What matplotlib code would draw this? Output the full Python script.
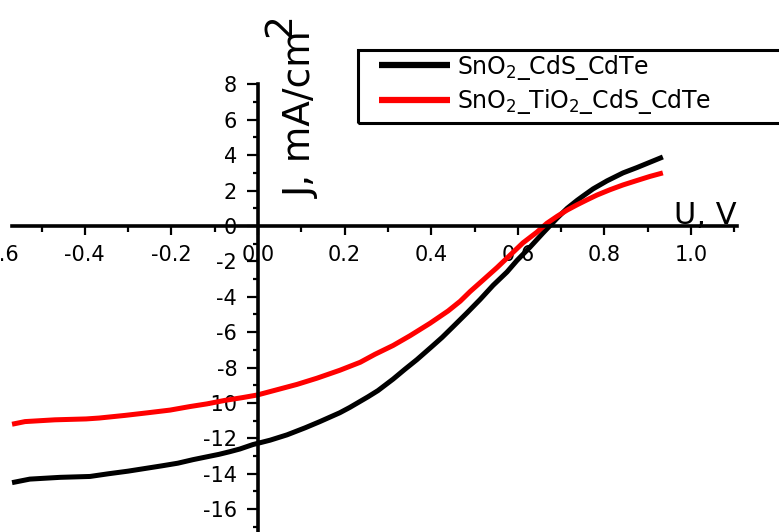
import matplotlib
matplotlib.use("Agg")
import matplotlib.pyplot as plt
from matplotlib.ticker import MultipleLocator, FormatStrFormatter
from matplotlib.patches import Rectangle

# ---- data ----
black_v = [-0.568, -0.527, -0.457, -0.388, -0.346, -0.300, -0.261, -0.222, -0.185,
           -0.150, -0.120, -0.090, -0.065, -0.042, -0.012, 0.028, 0.067, 0.109,
           0.143, 0.189, 0.212, 0.254, 0.277, 0.312, 0.339, 0.367, 0.402, 0.425,
           0.450, 0.483, 0.513, 0.543, 0.575, 0.598, 0.628, 0.658, 0.691, 0.714,
           0.737, 0.751, 0.774, 0.806, 0.843, 0.875, 0.905, 0.935]
black_j = [-14.5, -14.3, -14.2, -14.15, -14.0, -13.85, -13.7, -13.55, -13.4,
           -13.2, -13.05, -12.9, -12.75, -12.6, -12.35, -12.1, -11.8, -11.4,
           -11.05, -10.55, -10.25, -9.65, -9.3, -8.65, -8.1, -7.55, -6.8, -6.3,
           -5.7, -4.9, -4.15, -3.35, -2.6, -1.95, -1.2, -0.4, 0.45, 1.0,
           1.45, 1.7, 2.1, 2.55, 3.0, 3.3, 3.6, 3.9]

red_v = [-0.568, -0.538, -0.469, -0.397, -0.367, -0.307, -0.254, -0.203, -0.157,
         -0.118, -0.076, -0.037, -0.002, 0.044, 0.090, 0.136, 0.189, 0.236,
         0.270, 0.312, 0.351, 0.397, 0.439, 0.467, 0.490, 0.520, 0.552, 0.582,
         0.612, 0.644, 0.667, 0.691, 0.714, 0.737, 0.760, 0.783, 0.813, 0.843,
         0.875, 0.905, 0.935]
red_j = [-11.2, -11.05, -10.95, -10.9, -10.85, -10.7, -10.55, -10.4, -10.2,
         -10.05, -9.85, -9.7, -9.55, -9.25, -8.95, -8.6, -8.15, -7.7,
         -7.25, -6.75, -6.2, -5.5, -4.8, -4.25, -3.7, -3.05, -2.35, -1.65,
         -0.95, -0.35, 0.15, 0.55, 0.9, 1.2, 1.48, 1.75, 2.05, 2.32,
         2.57, 2.8, 3.0]

series_labels = ["SnO$_2$_CdS_CdTe", "SnO$_2$_TiO$_2$_CdS_CdTe"]
x_label = "U, V"
y_label = "J, mA/cm"
y_label_sup = "2"

plt.rcParams["axes.unicode_minus"] = False
plt.rcParams["font.family"] = ["DejaVu Sans"]

W, H = 779, 532
fig = plt.figure(figsize=(W / 100, H / 100), dpi=100)

# axes geometry (pixels)
x0_px, px_per_v = 258.0, 433.0
y0_px, px_per_j = 226.0, 17.7
xmin, xmax = -0.6, 1.106
ymin, ymax = -17.29, 8.0
left_px = x0_px + xmin * px_per_v
right_px = x0_px + xmax * px_per_v
top_px = y0_px - ymax * px_per_j
bot_px = y0_px - ymin * px_per_j
ax = fig.add_axes([left_px / W, 1 - bot_px / H,
                   (right_px - left_px) / W, (bot_px - top_px) / H])
ax.set_xlim(xmin, xmax)
ax.set_ylim(ymin, ymax)
ax.patch.set_visible(False)

l1, = ax.plot(black_v, black_j, color="black", lw=3.6, solid_capstyle="butt")
l2, = ax.plot(red_v, red_j, color="#ff0000", lw=3.6, solid_capstyle="butt")

for s in ("top", "right"):
    ax.spines[s].set_visible(False)
ax.spines["left"].set_position(("data", 0))
ax.spines["bottom"].set_position(("data", 0))
ax.spines["bottom"].set_bounds(-0.568, xmax)
for s in ("left", "bottom"):
    ax.spines[s].set_linewidth(2.6)

ax.xaxis.set_major_locator(MultipleLocator(0.2))
ax.xaxis.set_minor_locator(MultipleLocator(0.1))
ax.yaxis.set_major_locator(MultipleLocator(2))
ax.yaxis.set_minor_locator(MultipleLocator(1))
ax.xaxis.set_major_formatter(FormatStrFormatter("%.1f"))
ax.yaxis.set_major_formatter(FormatStrFormatter("%d"))

ax.tick_params(axis="x", which="major", direction="out", length=6.5, width=1.6,
               pad=7, labelsize=15)
ax.tick_params(axis="x", which="minor", direction="out", length=4.5, width=1.6)
ax.tick_params(axis="y", which="major", direction="out", length=8, width=1.6,
               pad=7, labelsize=15)
ax.tick_params(axis="y", which="minor", direction="out", length=3.5, width=1.6)

# axis titles
fig.text(705 / W, 1 - 224 / H, x_label, fontsize=22, ha="center", va="baseline")
fig.text(302 / W, 1 - 115 / H, y_label, fontsize=27, rotation=90,
         ha="center", va="center")
fig.text(280 / W, 1 - 25 / H, y_label_sup, fontsize=27, rotation=90,
         ha="center", va="center")

# legend frame (extends past the right edge, as in the reference)
fig.patches.append(Rectangle((358 / W, 1 - 123 / H), 0.7, 73 / H,
                             transform=fig.transFigure, fill=False,
                             edgecolor="black", lw=2.2, clip_on=False))
leg = fig.legend([l1, l2], series_labels, loc="center left",
                 bbox_to_anchor=(379 / W, 1 - 84.5 / H), frameon=False,
                 fontsize=17, handlelength=3.0, handletextpad=0.3,
                 borderpad=0, borderaxespad=0, labelspacing=0.25)
for h in leg.legend_handles:
    h.set_linewidth(4.5)

fig.savefig("out.png", dpi=100)
